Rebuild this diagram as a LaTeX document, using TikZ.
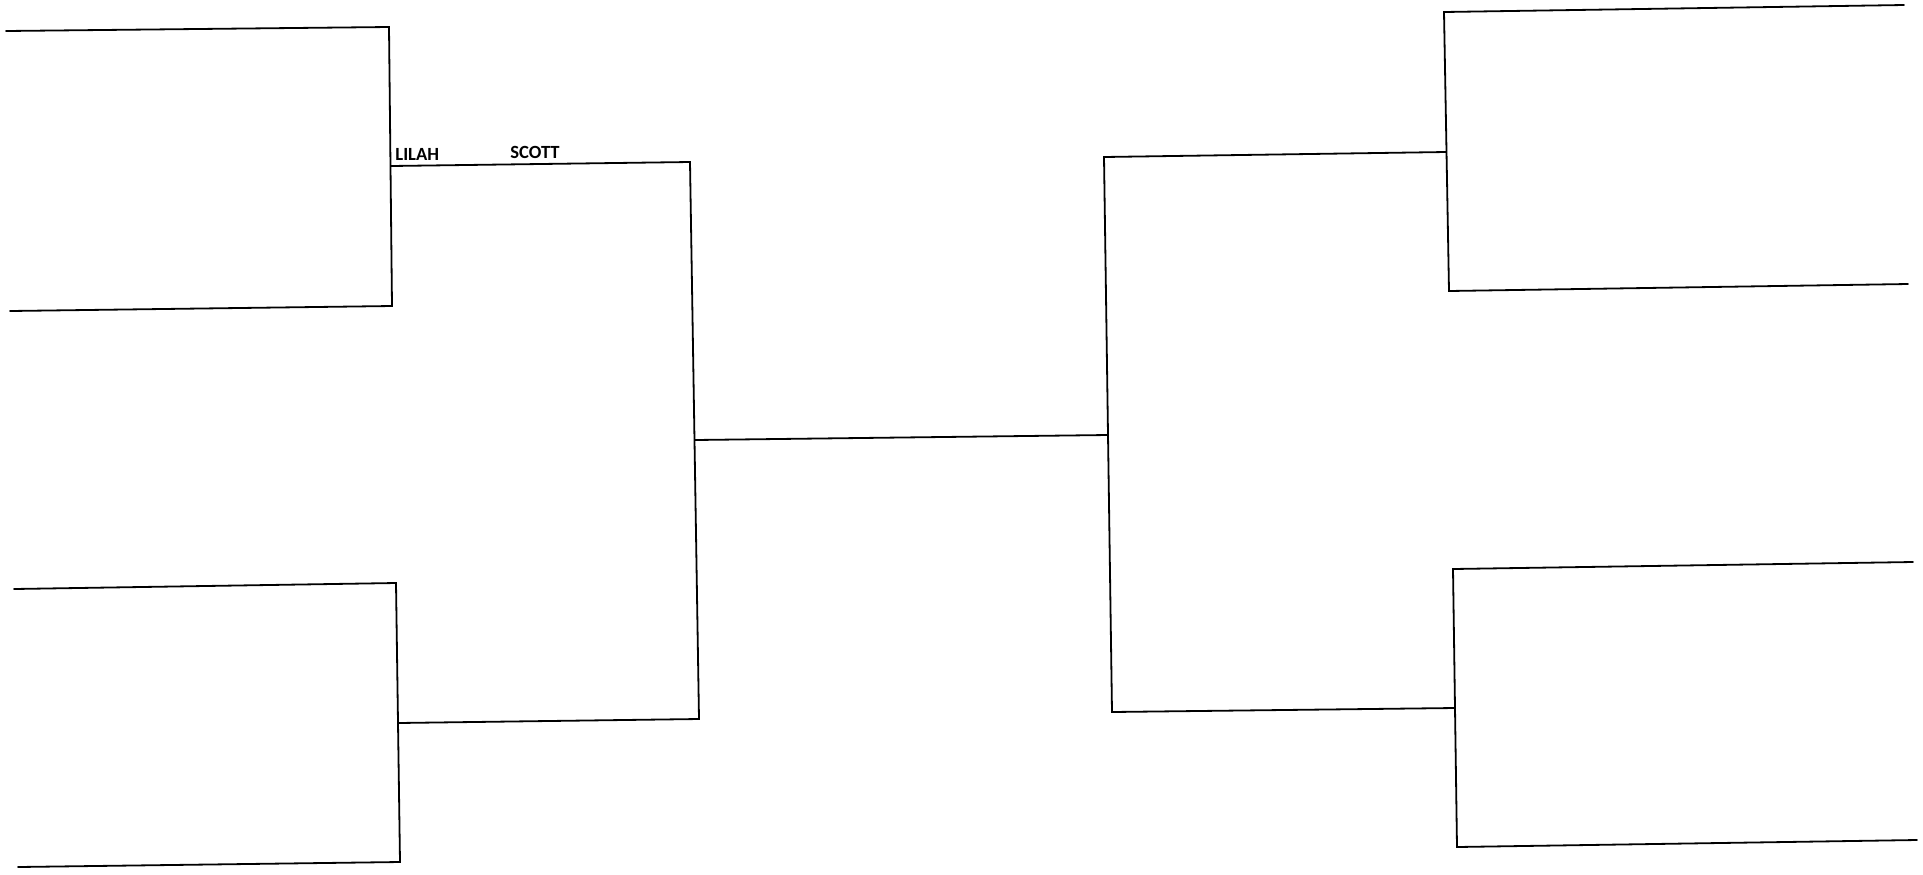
\documentclass[tikz,border=0pt]{standalone}
\usepackage{fontspec}
\setmainfont{Carlito}
\usetikzlibrary{positioning}
\tikzset{bracket/.style = {draw, line width=0.9pt, line cap=round, line join=miter}}
\tikzset{player/.style = {font=\fontsize{9.3}{10}\selectfont\bfseries, inner sep=0, anchor=base west}}

\begin{document}
\begin{tikzpicture}[x=0.5pt, y=-0.5pt]
      \useasboundingbox (0,0) rectangle (1923,874);

      % first round, left side
      \coordinate (a1) at (6,31);    \coordinate (a2) at (389,27);
      \coordinate (a3) at (392,306); \coordinate (a4) at (10,311);
      \coordinate (b1) at (14,589);  \coordinate (b2) at (396,583);
      \coordinate (b3) at (400,862); \coordinate (b4) at (18,867);
      % first round, right side
      \coordinate (c1) at (1904,5);   \coordinate (c2) at (1444,12);
      \coordinate (c3) at (1449,291); \coordinate (c4) at (1908,284);
      \coordinate (d1) at (1913,562); \coordinate (d2) at (1453,569);
      \coordinate (d3) at (1457,847); \coordinate (d4) at (1917,840);
      % semifinals
      \coordinate (sa) at (391,166);  \coordinate (sb) at (398,723);
      \coordinate (l1) at (690,162);  \coordinate (l2) at (699,719);
      \coordinate (sc) at (1446,152); \coordinate (sd) at (1455,708);
      \coordinate (r1) at (1104,157); \coordinate (r2) at (1112,712);
      % final
      \coordinate (fl) at (695,440);  \coordinate (fr) at (1108,435);

      \draw[bracket] (a1) -- (a2) -- (a3) -- (a4);
      \draw[bracket] (b1) -- (b2) -- (b3) -- (b4);
      \draw[bracket] (c1) -- (c2) -- (c3) -- (c4);
      \draw[bracket] (d1) -- (d2) -- (d3) -- (d4);

      \draw[bracket] (sa) -- (l1) -- (l2) -- (sb);
      \draw[bracket] (sc) -- (r1) -- (r2) -- (sd);
      \draw[bracket] (fl) -- (fr);

      \node[player] (lilah) at (395,160) {LILAH};
      \node[player] (scott) at (510,158.5) {SCOTT};
\end{tikzpicture}
\end{document}
